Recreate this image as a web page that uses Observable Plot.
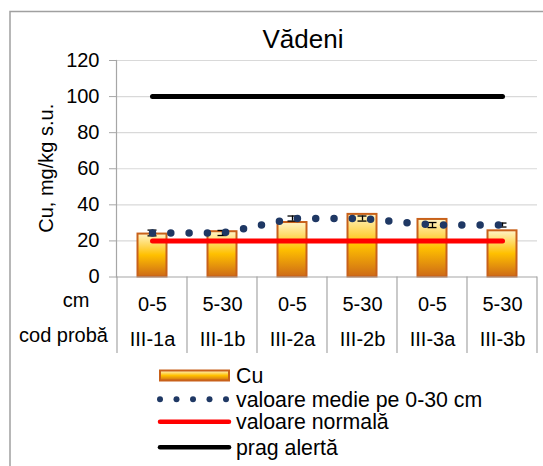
<!DOCTYPE html>
<html><head><meta charset="utf-8">
<script src="https://cdn.jsdelivr.net/npm/d3@7"></script>
<script src="https://cdn.jsdelivr.net/npm/@observablehq/plot@0.6"></script>
<style>body{margin:0;background:#fff} svg{display:block}</style>
</head><body><div id="chart"></div>
<script>
const codes = ["III-1a","III-1b","III-2a","III-2b","III-3a","III-3b"];
const depths = ["0-5","5-30","0-5","5-30","0-5","5-30"];
const cuValues = [23.8, 25.1, 30.2, 34.7, 31.9, 25.6];
const meanValues = [24.4, 24.4, 32.4, 32.4, 28.8, 28.8];
const meanErrors = [1.6, 1.4, 1.4, 1.4, 1.4, 1.1];
const normalValue = 20;
const alertValue = 100;
const yTicks = [0, 20, 40, 60, 80, 100, 120];
const legendLabels = ["Cu", "valoare medie pe 0-30 cm", "valoare normală", "prag alertă"];
const titleText = "Vădeni";
const yLabelText = "Cu, mg/kg s.u.";
const rowLabels = ["cm", "cod probă"];

const rows = codes.map((c, i) => ({code: c, depth: depths[i], cu: cuValues[i], mean: meanValues[i], err: meanErrors[i]}));
const normalRows = codes.map(c => ({code: c, v: normalValue}));
const alertRows = codes.map(c => ({code: c, v: alertValue}));

const font = "'Liberation Sans', Arial, sans-serif";
const W = 543, H = 466;
const axisGray = "#A6A6A6";

const plot = Plot.plot({
  width: W, height: H,
  marginLeft: 116, marginRight: 6, marginTop: 60, marginBottom: 189.5,
  style: {fontFamily: font, fontSize: "20px", color: "#000", background: "#fff", overflow: "visible"},
  x: {type: "band", domain: codes, paddingInner: 0, paddingOuter: 0},
  y: {domain: [0, 120]},
  marks: [
    Plot.gridY(yTicks.filter(t => t > 0), {stroke: "#D9D9D9", strokeOpacity: 1, strokeWidth: 1.2}),
    Plot.barY(rows, {x: "code", y: "cu", fill: "url(#cuGrad)", stroke: "#C8611A", strokeWidth: 2, insetLeft: 20.5, insetRight: 20.5}),
    Plot.ruleY([0], {stroke: axisGray, strokeWidth: 1.2}),
    Plot.frame({anchor: "left", stroke: axisGray, strokeWidth: 1.2}),
    Plot.axisY({ticks: yTicks, tickSize: 7, tickPadding: 10, stroke: axisGray, label: null, tickFormat: d => d}),
    Plot.axisX({tickSize: 0, tickPadding: 20, label: null, tickFormat: d => depths[codes.indexOf(d)]}),
    Plot.axisX({tickSize: 0, tickPadding: 55, label: null, tickFormat: d => d}),
    Plot.line(normalRows, {x: "code", y: "v", stroke: "#FF0000", strokeWidth: 5, strokeLinecap: "round"}),
    Plot.ruleX(rows, {x: "code", y1: d => d.mean - d.err, y2: d => d.mean + d.err, stroke: "#000", strokeWidth: 1.3}),
    Plot.tickY(rows, {x: "code", y: d => d.mean + d.err, insetLeft: 30.5, insetRight: 30.5, stroke: "#000", strokeWidth: 1.3}),
    Plot.tickY(rows, {x: "code", y: d => d.mean - d.err, insetLeft: 30.5, insetRight: 30.5, stroke: "#000", strokeWidth: 1.3}),
    Plot.line(rows, {x: "code", y: "mean", stroke: "#1F3864", strokeWidth: 7.5, strokeDasharray: "0 18.3", strokeLinecap: "round"}),
    Plot.line(alertRows, {x: "code", y: "v", stroke: "#000", strokeWidth: 5, strokeLinecap: "round"})
  ]
});

const svg = d3.select(plot);
const defs = svg.insert("defs", ":first-child");
const g = defs.append("linearGradient").attr("id", "cuGrad").attr("x1", 0).attr("y1", 0).attr("x2", 0).attr("y2", 1);
g.append("stop").attr("offset", "0%").attr("stop-color", "#FFF4C8");
g.append("stop").attr("offset", "50%").attr("stop-color", "#FFC000");
g.append("stop").attr("offset", "100%").attr("stop-color", "#CD6A17");

const xs = plot.scale("x"), ys = plot.scale("y");
const bw = xs.bandwidth;
const y0 = ys.apply(0);
const tableBottom = 353;
const bounds = codes.map(c => xs.apply(c)).concat([xs.apply(codes[codes.length - 1]) + bw]);
const over = svg.append("g");
bounds.forEach(bx => {
  over.append("line").attr("x1", bx).attr("x2", bx).attr("y1", y0).attr("y2", tableBottom)
    .attr("stroke", axisGray).attr("stroke-width", 1.2);
});
// chart border
over.append("path").attr("d", `M10,${H + 5}V11.5H${W + 5}`).attr("fill", "none").attr("stroke", "#A0A0A0").attr("stroke-width", 1.5);
// title
over.append("text").attr("x", 303).attr("y", 47.5).attr("text-anchor", "middle")
  .attr("font-size", 26).attr("fill", "#000").text(titleText);
// y label
over.append("text").attr("transform", `translate(53,${(ys.apply(0) + ys.apply(120)) / 2}) rotate(-90)`)
  .attr("text-anchor", "middle").attr("font-size", 20).attr("fill", "#000").text(yLabelText);
// row labels
over.append("text").attr("x", 76).attr("y", 307).attr("text-anchor", "middle").attr("font-size", 20).text(rowLabels[0]);
over.append("text").attr("x", 63.5).attr("y", 342).attr("text-anchor", "middle").attr("font-size", 20).text(rowLabels[1]);
// legend
const lx0 = 160, lx1 = 229, tx = 236;
const rowY = [375.5, 399.3, 421.7, 447.3];
const lg = svg.append("g").attr("font-size", 21.3).attr("text-anchor", "start");
lg.append("rect").attr("x", lx0).attr("y", 370.5).attr("width", lx1 - lx0).attr("height", 10)
  .attr("fill", "url(#cuGrad)").attr("stroke", "#C8611A").attr("stroke-width", 2);
[160, 176.5, 193, 209.5, 226].forEach(cx => lg.append("circle").attr("cx", cx).attr("cy", rowY[1]).attr("r", 3).attr("fill", "#1F3864"));
lg.append("line").attr("x1", lx0).attr("x2", lx1).attr("y1", rowY[2]).attr("y2", rowY[2]).attr("stroke", "#FF0000").attr("stroke-width", 4.5).attr("stroke-linecap", "round");
lg.append("line").attr("x1", lx0).attr("x2", lx1).attr("y1", rowY[3]).attr("y2", rowY[3]).attr("stroke", "#000").attr("stroke-width", 4.5).attr("stroke-linecap", "round");
legendLabels.forEach((t, i) => lg.append("text").attr("x", tx).attr("y", rowY[i] + 7.5).attr("text-anchor", "start").attr("fill", "#000").text(t));

document.getElementById("chart").appendChild(plot);
</script></body></html>
